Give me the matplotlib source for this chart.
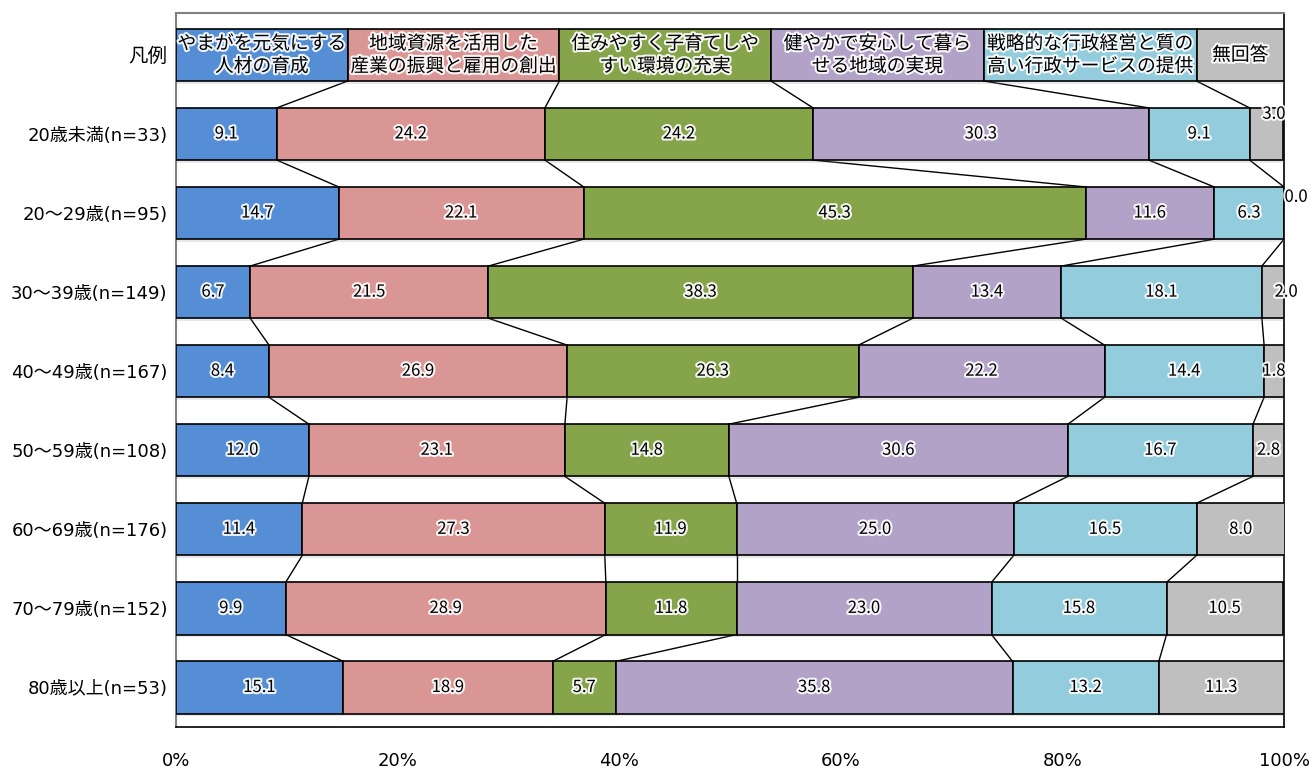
import numpy as np
import matplotlib
matplotlib.use('Agg')
import matplotlib.pyplot as plt
import matplotlib.patheffects as pe

plt.rcParams['font.family'] = ['Noto Sans CJK JP', 'DejaVu Sans']
latin_first = ['DejaVu Sans', 'Noto Sans CJK JP']

# age groups and answer shares (%)
groups = ['20歳未満(n=33)', '20〜29歳(n=95)', '30〜39歳(n=149)', '40〜49歳(n=167)',
          '50〜59歳(n=108)', '60〜69歳(n=176)', '70〜79歳(n=152)', '80歳以上(n=53)']
answers = ['やまがを元気にする\n人材の育成', '地域資源を活用した\n産業の振興と雇用の創出',
           '住みやすく子育てしや\nすい環境の充実', '健やかで安心して暮ら\nせる地域の実現',
           '戦略的な行政経営と質の\n高い行政サービスの提供', '無回答']
legend_widths = [15.5, 19.1, 19.1, 19.2, 19.2, 7.9]
shares = np.array([
    [9.1, 24.2, 24.2, 30.3, 9.1, 3.0],
    [14.7, 22.1, 45.3, 11.6, 6.3, 0.0],
    [6.7, 21.5, 38.3, 13.4, 18.1, 2.0],
    [8.4, 26.9, 26.3, 22.2, 14.4, 1.8],
    [12.0, 23.1, 14.8, 30.6, 16.7, 2.8],
    [11.4, 27.3, 11.9, 25.0, 16.5, 8.0],
    [9.9, 28.9, 11.8, 23.0, 15.8, 10.5],
    [15.1, 18.9, 5.7, 35.8, 13.2, 11.3],
])
colors = ['#558ED5', '#D99694', '#86A44A', '#B3A2C7', '#93CDDD', '#BFBFBF']

fig = plt.figure(figsize=(13.14, 7.70), dpi=100)
ax = fig.add_axes([0.1339, 0.0558, 0.8433, 0.9273])

h = 0.66
glow = [pe.withStroke(linewidth=3, foreground='white', alpha=0.9)]
shadow = [pe.SimplePatchShadow(offset=(0.5, -2), shadow_rgbFace='#909090', alpha=0.2),
          pe.Normal()]

# legend row on top, then one row per age group
rows = [legend_widths] + [list(r) for r in shares]
ylabels = ['凡例'] + groups
y = np.arange(len(rows))
lefts_all = []
for i, vals in enumerate(rows):
    left = 0.0
    lefts = [0.0]
    for j, v in enumerate(vals):
        bar = ax.barh(y[i], v, left=left, height=h, color=colors[j],
                      edgecolor='black', linewidth=1.2, zorder=3)
        bar[0].set_path_effects(shadow)
        left += v
        lefts.append(left)
    lefts_all.append(lefts)

# legend texts inside the top row
for j, txt in enumerate(answers):
    cx = (lefts_all[0][j] + lefts_all[0][j + 1]) / 2
    ax.text(cx, y[0], txt, ha='center', va='center', fontsize=13.5,
            linespacing=1.1, zorder=5, path_effects=glow)

# value labels
for i in range(1, len(rows)):
    for j, v in enumerate(rows[i]):
        cx = (lefts_all[i][j] + lefts_all[i][j + 1]) / 2
        cy = y[i]
        if v < 1:
            cx, cy = lefts_all[i][j] + 1.1, y[i] - 0.2
        elif v == 3.0:
            cx, cy = cx + 0.7, y[i] - 0.25
        elif v == 2.0:
            cx = cx + 1.2
        ax.text(cx, cy, f'{v:.1f}', ha='center', va='center', fontsize=12,
                zorder=5, path_effects=glow)

# connector lines between neighbouring rows
for i in range(len(rows) - 1):
    for k in range(1, 6):
        ax.plot([lefts_all[i][k], lefts_all[i + 1][k]],
                [y[i] + h / 2, y[i + 1] - h / 2],
                color='black', linewidth=1.0, zorder=2)

ax.set_xlim(0, 100)
ax.set_ylim(len(rows) - 0.5, -0.53)
ax.set_yticks(y)
ax.set_yticklabels(ylabels, fontsize=13, family=latin_first)
ax.get_yticklabels()[0].set_fontsize(14)
ax.set_xticks(np.arange(0, 101, 20))
ax.set_xticklabels([f'{t}%' for t in range(0, 101, 20)], fontsize=13, family=latin_first)
ax.tick_params(axis='x', length=0, pad=18)
ax.tick_params(axis='y', length=0, pad=6)
for s in ['top', 'left']:
    ax.spines[s].set_color('#808080')
    ax.spines[s].set_linewidth(1.5)
for s in ['bottom', 'right']:
    ax.spines[s].set_color('black')
    ax.spines[s].set_linewidth(1.2)

fig.savefig('out.png', dpi=100)
